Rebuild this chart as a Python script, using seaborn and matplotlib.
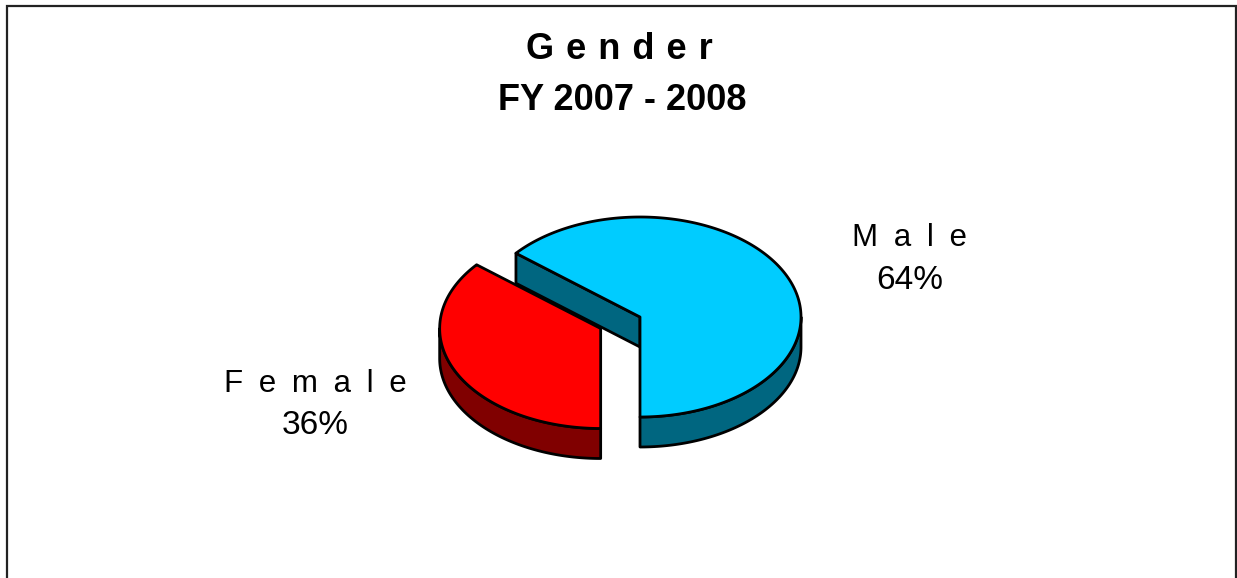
import numpy as np
import matplotlib
matplotlib.use("Agg")
import matplotlib.pyplot as plt
from matplotlib.patches import Polygon
import seaborn as sns

# ---- data ----
categories = ["Male", "Female"]
label_texts = ["M\u2002a\u2002l\u2002e", "F\u2002e\u2002m\u2002a\u2002l\u2002e"]
shares = [64, 36]
top_colors = ["#00CCFF", "#FF0000"]
side_colors = ["#006680", "#800000"]
explode = [0.0, 0.27]
title_lines = ["G\u2004e\u2004n\u2004d\u2004e\u2004r", "FY 2007 - 2008"]

sns.set_theme(style="white")
plt.rcParams["font.family"] = ["Liberation Sans", "DejaVu Sans"]
plt.rcParams["text.color"] = "black"

W, H = 1237, 578
fig = plt.figure(figsize=(W / 100, H / 100), dpi=100)
ax = fig.add_axes([0, 0, 1, 1])
ax.set_xlim(0, W)
ax.set_ylim(H, 0)
ax.axis("off")

# geometry of the 3D pie (pixel space)
cx, cy = 640, 317
rx, ry = 161, 100
depth = 30
start = -90.0
lw = 2.0


def pt(c, t, dz=0):
    r = np.deg2rad(t)
    return np.column_stack([c[0] + rx * np.cos(r), c[1] - ry * np.sin(r) + dz])


total = float(sum(shares))
angles = []
a = start
for s in shares:
    span = 360.0 * s / total
    angles.append((a, a + span))
    a += span

centers = []
for (t0, t1), e in zip(angles, explode):
    mid = np.deg2rad((t0 + t1) / 2)
    centers.append((cx + e * rx * np.cos(mid), cy - e * ry * np.sin(mid)))

for i in range(len(shares)):
    t0, t1 = angles[i]
    c = centers[i]
    # radial faces facing the viewer
    for t, sign in ((t0, -1), (t1, 1)):
        nrm = t + sign * 90
        if np.sin(np.deg2rad(nrm)) < -1e-6:
            p = pt(c, np.array([t]))[0]
            poly = [(c[0], c[1]), (p[0], p[1]), (p[0], p[1] + depth), (c[0], c[1] + depth)]
            ax.add_patch(Polygon(poly, closed=True, fc=side_colors[i], ec="black", lw=lw, joinstyle="round"))
    # visible outer side
    segs = []
    for base in (-360.0, 0.0, 360.0):
        a0 = max(t0, 180.0 + base)
        a1 = min(t1, 360.0 + base)
        if a1 > a0:
            segs.append((a0, a1))
    for a0, a1 in segs:
        ts = np.linspace(a0, a1, 120)
        top = pt(c, ts)
        bot = pt(c, ts[::-1], depth)
        ax.add_patch(Polygon(np.vstack([top, bot]), closed=True, fc=side_colors[i], ec="black", lw=lw, joinstyle="round"))
    # top face
    ts = np.linspace(t0, t1, 240)
    arc = pt(c, ts)
    poly = np.vstack([[c], arc])
    ax.add_patch(Polygon(poly, closed=True, fc=top_colors[i], ec="black", lw=lw, joinstyle="round"))

# labels
label_pos = [(910, 246, 289), (315, 392, 434)]
for i in range(len(shares)):
    x, y1, y2 = label_pos[i]
    ax.text(x, y1, label_texts[i], ha="center", va="baseline", fontsize=22.5, color="black")
    ax.text(x, y2, f"{shares[i]}%", ha="center", va="baseline", fontsize=24, color="black")

# title
ax.text(619, 59, title_lines[0], ha="center", va="baseline", fontsize=26, fontweight="bold", color="black")
ax.text(622, 110, title_lines[1], ha="center", va="baseline", fontsize=26, fontweight="bold", color="black")

# frame
ax.plot([6.5, 6.5, 1236, 1236], [H + 5, 5.5, 5.5, H + 5], color="#222222", lw=1.6, solid_joinstyle="miter", clip_on=False)

fig.savefig("out.png", dpi=100)
